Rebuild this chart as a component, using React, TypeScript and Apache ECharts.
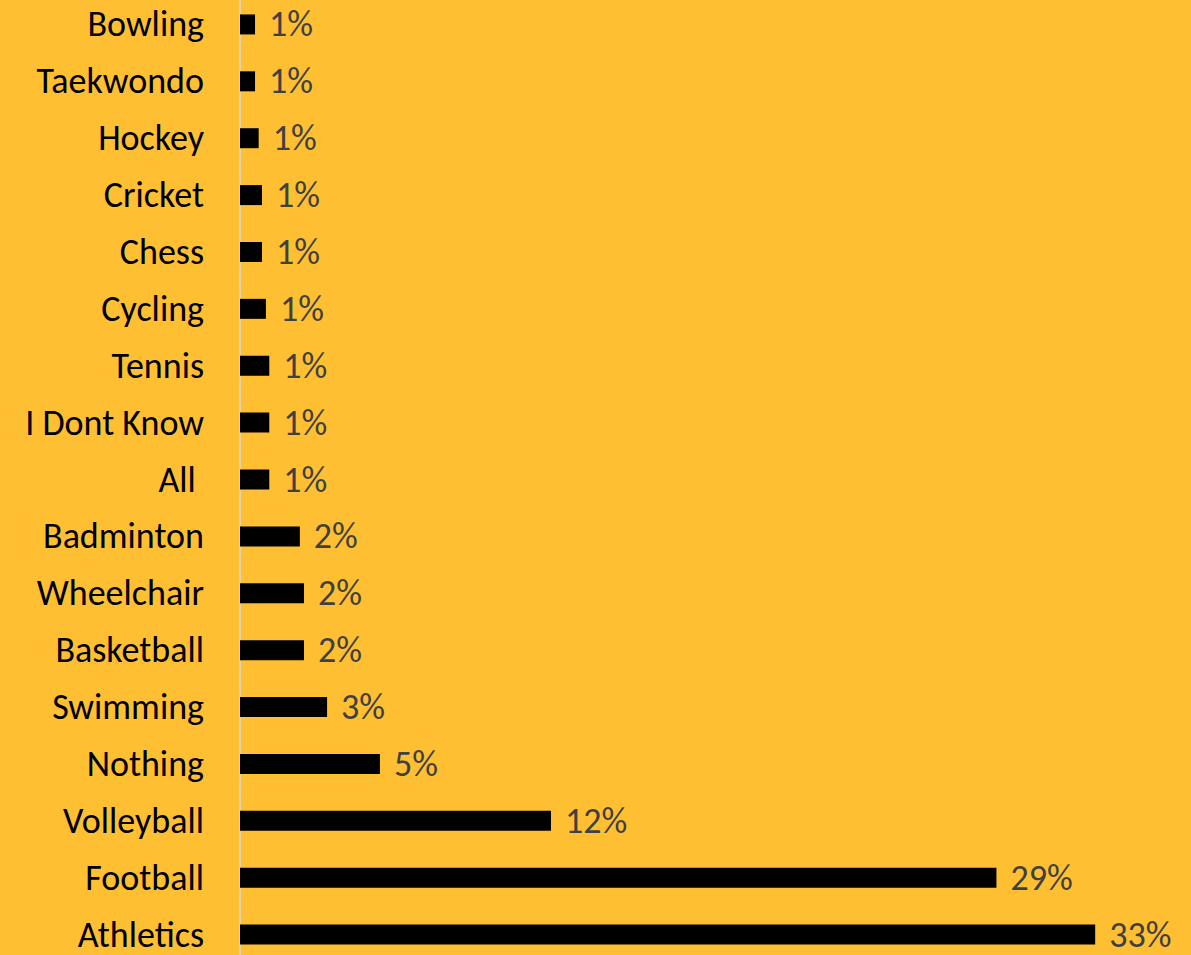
import React, { useEffect, useRef } from "react";
import * as echarts from "echarts";

// Top-to-bottom order as shown
const categories = [
  "Bowling", "Taekwondo", "Hockey", "Cricket", "Chess", "Cycling", "Tennis",
  "I Dont Know", "All ", "Badminton", "Wheelchair", "Basketball", "Swimming",
  "Nothing", "Volleyball", "Football", "Athletics",
];
const values = [
  0.58, 0.58, 0.72, 0.85, 0.85, 1.0, 1.13,
  1.13, 1.13, 2.31, 2.47, 2.47, 3.36,
  5.4, 12.0, 29.19, 33.0,
];

const FONT = "Carlito, Calibri, Lato, 'Open Sans', sans-serif";

export default function App() {
  const ref = useRef<HTMLDivElement>(null);
  useEffect(() => {
    if (!ref.current) return;
    const chart = echarts.init(ref.current, undefined, { renderer: "svg" });
    chart.setOption({
      animation: false,
      backgroundColor: "#FFBF33",
      grid: { left: 240, right: 44, top: 0, bottom: 0, containLabel: false },
      xAxis: {
        type: "value",
        min: 0,
        max: 35,
        show: false,
      },
      yAxis: {
        type: "category",
        data: categories,
        inverse: true,
        axisLine: { show: true, lineStyle: { color: "#D9D9D9", width: 1.5 } },
        axisTick: { show: false },
        axisLabel: {
          color: "#000000",
          fontSize: 36,
          fontFamily: FONT,
          margin: 36,
        },
        splitLine: { show: false },
      },
      series: [
        {
          type: "bar",
          data: values,
          barWidth: 20,
          itemStyle: { color: "#000000" },
          label: {
            show: true,
            position: "right",
            distance: 14,
            color: "#404040",
            fontSize: 36,
            fontFamily: FONT,
            formatter: (p: any) => Math.max(1, Math.round(p.value)) + "%",
          },
        },
      ],
    });
    return () => chart.dispose();
  }, []);
  return (
    <div
      style={{
        position: "absolute",
        left: 0,
        top: 0,
        width: 1191,
        height: 955,
        overflow: "hidden",
        background: "#FFBF33",
      }}
    >
      <div
        ref={ref}
        style={{ position: "absolute", left: 0, top: -4.4, width: 1191, height: 966.9 }}
      />
    </div>
  );
}
